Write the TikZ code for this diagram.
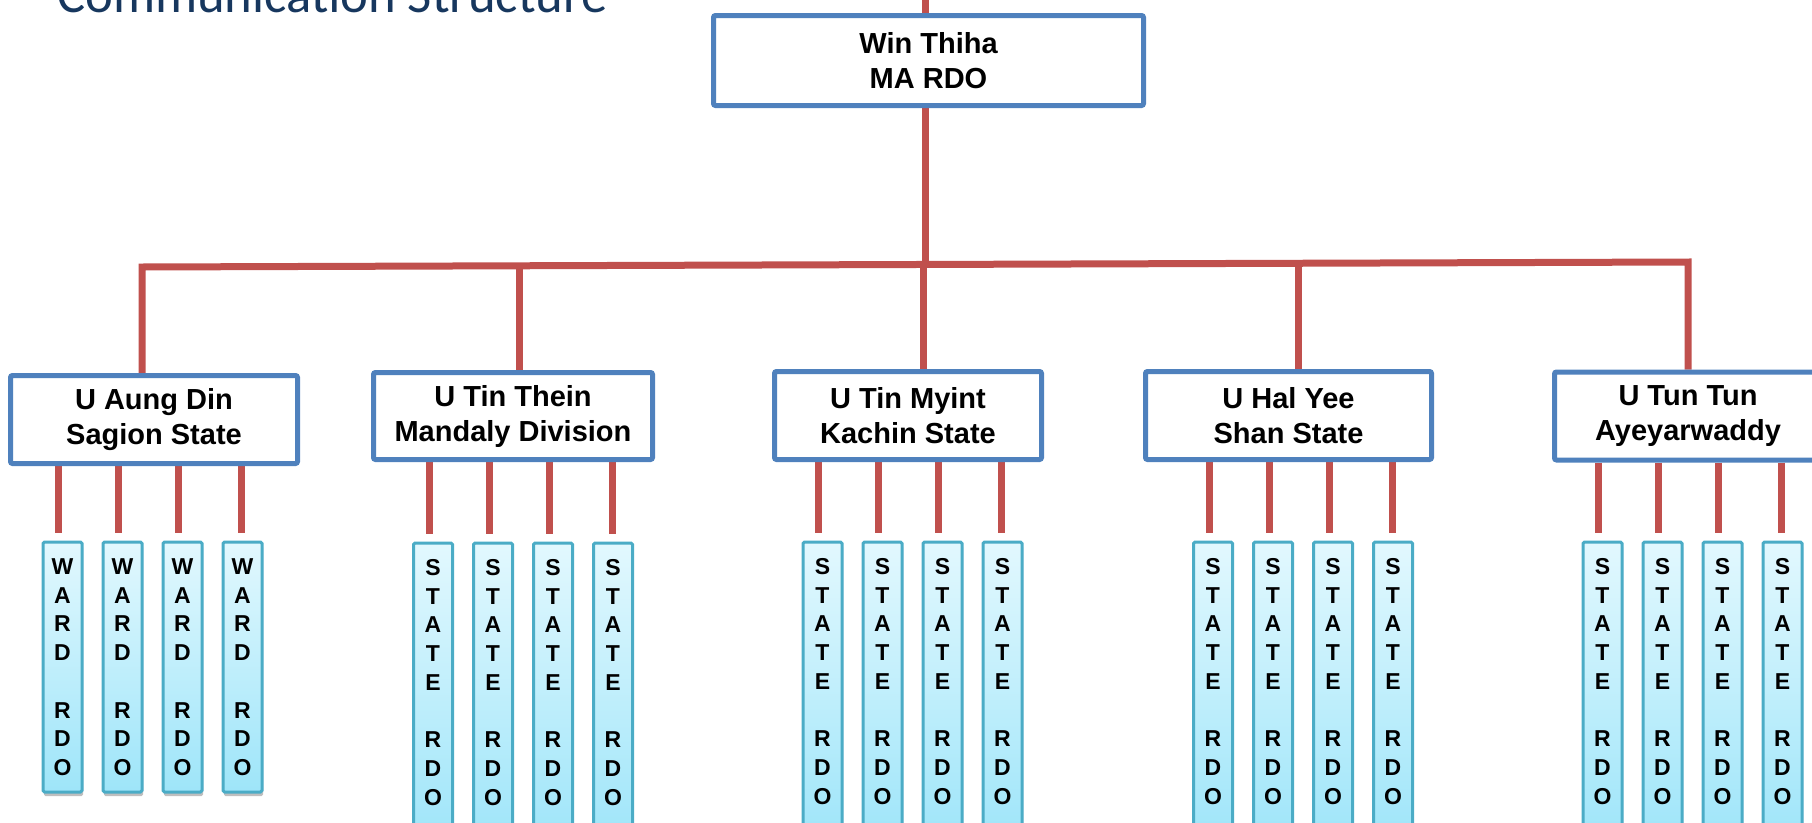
\documentclass[tikz,border=0pt]{standalone}
\usepackage{fontspec}
\setmainfont{Liberation Sans}
\newfontfamily\titlefont{Carlito}
\usetikzlibrary{shadows,backgrounds}
\definecolor{boxblue}{RGB}{79,129,189}
\definecolor{linkred}{RGB}{192,80,77}
\definecolor{cyanedge}{RGB}{75,172,198}
\definecolor{cyantop}{RGB}{226,248,254}
\definecolor{cyanbot}{RGB}{158,229,249}
\definecolor{titleblue}{RGB}{23,55,94}
\begin{document}
\begin{tikzpicture}[x=1pt,y=-1pt,
  mgr/.style={draw=boxblue, line width=5pt, fill=white, rounded corners=2pt,
    align=center, inner sep=0pt, font=\fontsize{29}{35}\selectfont\bfseries},
  rdo/.style={draw=cyanedge, line width=3pt, top color=cyantop, bottom color=cyanbot,
    rounded corners=1.5pt, anchor=north, minimum width=39pt, inner xsep=0pt, inner ysep=0pt,
    text height=32.5pt, font=\fontsize{23}{28.7}\selectfont\bfseries,
    drop shadow={shadow xshift=1pt, shadow yshift=-4pt, opacity=0.25, fill=black}},
  ward/.style={rdo, text depth=217.5pt},
  staterdo/.style={rdo, text depth=270pt},
  link/.style={draw=linkred, line width=7pt}
]
\useasboundingbox (0,0) rectangle (1812,822);
\clip (0,0) rectangle (1812,822);

\node[anchor=base west, inner sep=0pt, text=titleblue,
  font=\titlefont\fontsize{52.7}{60}\selectfont] (title) at (57,12) {Communication Structure};

\node[mgr, minimum width=430pt, minimum height=90pt] (top) at (928.5,60.5) {Win Thiha\\MA RDO};
\node[mgr, minimum width=287pt, minimum height=88pt] (b1) at (154,419.5) {U Aung Din\\Sagion State};
\node[mgr, minimum width=279pt, minimum height=87pt] (b2) at (513,416) {U Tin Thein\\Mandaly Division};
\node[mgr, minimum width=267pt, minimum height=88pt] (b3) at (908,415.5) {U Tin Myint\\Kachin State};
\node[mgr, minimum width=286pt, minimum height=88pt] (b4) at (1288.5,415.5) {U Hal Yee\\Shan State};
\node[mgr, minimum width=267pt, minimum height=88pt] (b5) at (1688,416) {U Tun Tun\\Ayeyarwaddy};

\foreach \i/\x in {1/62.5,2/122.5,3/182.5,4/242.5}
  \node[ward] (g1n\i) at (\x,540.5) {\begin{tabular}[t]{@{}c@{}}W\\A\\R\\D\\ \\R\\D\\O\end{tabular}};
\foreach \g/\a/\b/\c/\d/\t in {2/433/493/553/613/541.5, 3/822.5/882.5/942.5/1002.5/540.5,
    4/1213/1273/1333/1393/540.5, 5/1602.5/1662.5/1722.5/1782.5/540.5}{
  \foreach \i/\x in {1/\a,2/\b,3/\c,4/\d}
    \node[staterdo] (g\g n\i) at (\x,\t) {\begin{tabular}[t]{@{}c@{}}S\\T\\A\\T\\E\\ \\R\\D\\O\end{tabular}};
}

\coordinate (topend) at (925,0);
\coordinate (j0) at (925,264.5);
\coordinate (j3) at (923,264.5);
\coordinate (j2) at (519,265.8);
\coordinate (j4) at (1298,263.3);
\coordinate (barL) at (142,267);
\coordinate (barR) at (1688,262);

\begin{scope}[on background layer]
  \draw[link] (topend) -- (topend |- top.north);
  \draw[link] (topend |- top.south) -- (j0);
  \draw[link] (j3) -- (j3 |- b3.north);
  \draw[link, line join=miter] (barL |- b1.north) -- (barL) -- (barR) -- (barR |- b5.north);
  \draw[link] (j2) -- (j2 |- b2.north);
  \draw[link] (j4) -- (j4 |- b4.north);
  \foreach \g in {1,2,3,4,5}{
    \foreach \i/\s in {1/-4pt,2/-4pt,3/-4pt,4/-1pt}
      \draw[link] ([xshift=\s]g\g n\i.north |- b\g.south) -- ([xshift=\s,yshift=7.5pt]g\g n\i.north);
  }
\end{scope}
\end{tikzpicture}
\end{document}
